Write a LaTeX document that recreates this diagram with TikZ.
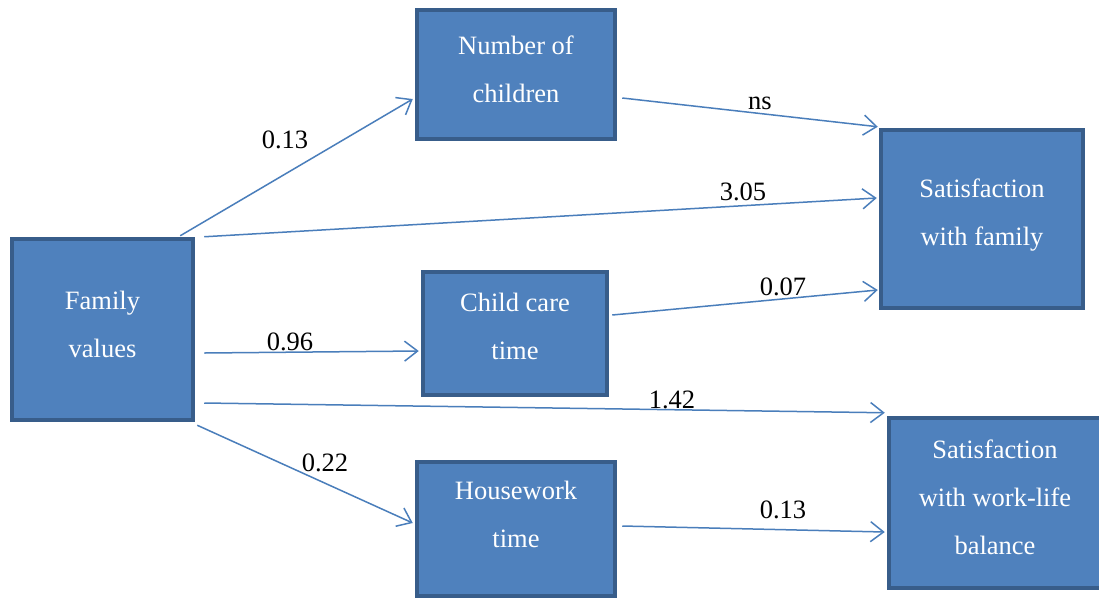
\documentclass[tikz,border=0pt]{standalone}
\usepackage{fontspec}
\setmainfont{Liberation Serif}
\usetikzlibrary{arrows.meta}
\definecolor{boxfill}{HTML}{4F81BD}
\definecolor{boxline}{HTML}{385D8A}
\definecolor{arrcol}{HTML}{4A7EBB}
\tikzset{
  box/.style={draw=boxline, line width=4.5pt, fill=boxfill, text=white, align=center,
    inner sep=0pt, font=\fontsize{26.5}{48}\selectfont},
  arr/.style={draw=arrcol, line width=1.5pt, -{Straight Barb[length=13pt,width=20pt,line width=1.5pt]}},
  lbl/.style={text=black, inner sep=0pt, font=\fontsize{26.5}{30}\selectfont}
}
\begin{document}
\begin{tikzpicture}[x=1pt,y=-1pt]
\useasboundingbox (0,0) rectangle (1099,598);
\fill[white] (0,0) rectangle (1099,598);
\node[box, minimum width=181pt, minimum height=181pt, text depth=10pt] (fv) at (102.5,329.5) {Family\\values};
\node[box, minimum width=198pt, minimum height=129pt, text depth=10pt] (noc) at (516,74.5) {Number of\\children};
\node[box, minimum width=202pt, minimum height=178pt, text depth=14pt] (swf) at (982,219) {Satisfaction\\with family};
\node[box, minimum width=184pt, minimum height=123pt, text depth=14pt] (cct) at (515,333.5) {Child care\\time};
\node[box, minimum width=212pt, minimum height=170pt, text depth=12pt] (swlb) at (995,503) {Satisfaction\\with work-life\\balance};
\node[box, minimum width=198pt, minimum height=134pt, text depth=30pt] (ht) at (516,529) {Housework\\time};

\draw[arr] ([shift={(-15,-1)}]fv.north east) -- ([shift={(-2,24.5)}]noc.west);
\draw[arr] ([shift={(9,0)}]fv.north east) -- ([shift={(-2,-21)}]swf.west);
\draw[arr] ([shift={(9,23.5)}]fv.east) -- ([shift={(-2,17.5)}]cct.west);
\draw[arr] ([shift={(9,73.5)}]fv.east) -- ([shift={(-2,-3)}]swlb.north west);
\draw[arr] ([shift={(2,3)}]fv.south east) -- ([shift={(-2,-6)}]ht.west);
\draw[arr] ([shift={(5,23.5)}]noc.east) -- ([shift={(-1,-1)}]swf.north west);
\draw[arr] ([shift={(3,-18.5)}]cct.east) -- ([shift={(-1,71)}]swf.west);
\draw[arr] ([shift={(5,-3)}]ht.east) -- ([shift={(-2,29)}]swlb.west);

\node[lbl] (l1) at (285,140) {0.13};
\node[lbl] (l2) at (743,192) {3.05};
\node[lbl] (l3) at (760,103) {ns};
\node[lbl] (l4) at (783,287) {0.07};
\node[lbl] (l5) at (290,342) {0.96};
\node[lbl] (l6) at (672,400) {1.42};
\node[lbl] (l7) at (325,463) {0.22};
\node[lbl] (l8) at (783,510) {0.13};
\end{tikzpicture}
\end{document}
